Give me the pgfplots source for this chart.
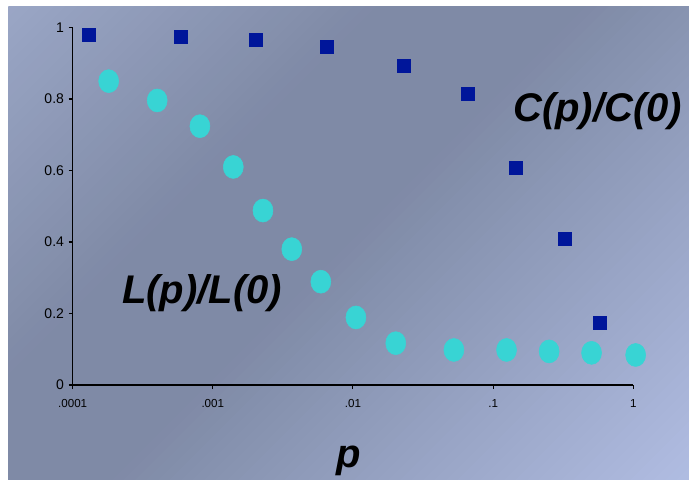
\documentclass[border=0pt]{standalone}
\usepackage{pgfplots}
\pgfplotsset{compat=1.18}
\usepackage{fontspec}
\setmainfont{Liberation Sans}

\definecolor{bgA}{RGB}{154,166,197}
\definecolor{bgB}{RGB}{127,138,166}
\definecolor{bgC}{RGB}{176,189,226}
\definecolor{sqblue}{RGB}{0,22,154}
\definecolor{dotcyan}{RGB}{56,212,212}

\begin{document}
\begin{tikzpicture}
\path[use as bounding box] (0,0) rectangle (516.75pt,359.25pt);
% diagonal gradient background
\begin{scope}
\clip (6pt,0pt) rectangle (516.75pt,354pt);
\begin{scope}[x=0.75pt, y=-0.75pt, shift={(6pt,354pt)}]
\foreach \i in {0,...,99}{
  \pgfmathsetmacro{\t}{(\i+0.5)/100}
  \pgfmathsetmacro{\sa}{\i*11.53}
  \pgfmathsetmacro{\sb}{\sa+13}
  \ifdim \t pt<0.32pt
    \pgfmathsetmacro{\p}{100*\t/0.32}
    \colorlet{bgcur}{bgB!\p!bgA}
  \else
    \ifdim \t pt<0.5pt
      \colorlet{bgcur}{bgB}
    \else
      \pgfmathsetmacro{\p}{100*(\t-0.5)/0.5}
      \colorlet{bgcur}{bgC!\p!bgB}
    \fi
  \fi
  \fill[bgcur] (\sa+600,-600) -- (\sb+600,-600) -- (\sb-1600,1600) -- (\sa-1600,1600) -- cycle;
}
\end{scope}
\end{scope}
\begin{axis}[
    at={(54.5pt,70.5pt)}, anchor=south west,
    scale only axis, width=420.45pt, height=268.1pt,
    xmode=log, xmin=1e-4, xmax=1, ymin=0, ymax=1,
    axis x line=bottom, axis y line=left,
    axis line style={-, line width=0.8pt, black},
    tick style={line width=0.8pt, black},
    tick align=outside, major tick length=3pt,
    xminorticks=false,
    xtick={1e-4,1e-3,1e-2,1e-1,1},
    xticklabels={.0001,.001,.01,.1,1},
    ytick={0,0.2,0.4,0.6,0.8,1},
    yticklabels={0,0.2,0.4,0.6,0.8,1},
    x tick label style={font=\fontsize{8.7pt}{10pt}\selectfont, yshift=-4pt},
    y tick label style={font=\fontsize{10.5pt}{12pt}\selectfont},
    clip=false,
]
% C(p)/C(0)
\addplot[only marks, mark=square*, mark size=4.9pt,
  mark options={draw=sqblue, fill=sqblue}] coordinates {
  (1.31e-4,0.981) (5.89e-4,0.973) (2.04e-3,0.967) (6.55e-3,0.945)
  (0.0232,0.894) (0.0664,0.815) (0.146,0.609) (0.327,0.408) (0.579,0.175)
};
% L(p)/L(0)
\addplot[only marks, mark=*, mark size=7.5pt,
  mark options={draw=dotcyan, fill=dotcyan, yscale=1.15}] coordinates {
  (1.807e-4,0.850) (4.01e-4,0.796) (8.09e-4,0.724) (1.40e-3,0.610)
  (2.28e-3,0.488) (3.66e-3,0.380) (5.90e-3,0.289) (0.0105,0.189)
  (0.0202,0.117) (0.0525,0.098) (0.1247,0.098) (0.251,0.094)
  (0.504,0.090) (1.04,0.084)
};
\end{axis}
\node[anchor=base west, inner sep=0, font=\fontsize{30pt}{32pt}\selectfont\bfseries\itshape]
  at (384.75pt,268pt) {C(p)/C(0)};
\node[anchor=base west, inner sep=0, font=\fontsize{30pt}{32pt}\selectfont\bfseries\itshape]
  at (91.3pt,131.8pt) {L(p)/L(0)};
\node[anchor=base, inner sep=0, font=\fontsize{30pt}{32pt}\selectfont\bfseries\itshape]
  at (261.75pt,9pt) {p};
\end{tikzpicture}
\end{document}
